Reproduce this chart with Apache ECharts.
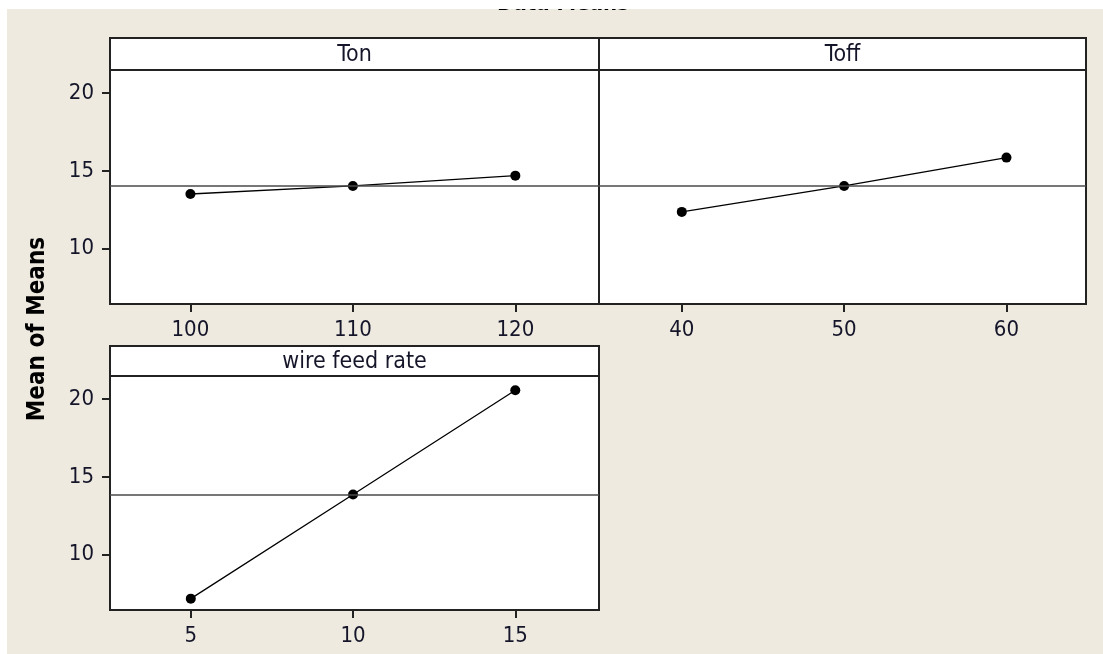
<!DOCTYPE html>
<html>
<head>
<meta charset="utf-8">
<script src="https://cdn.jsdelivr.net/npm/echarts@6/dist/echarts.min.js"></script>
<style>
html,body{margin:0;padding:0;background:#fff;}
#chart{width:1103px;height:654px;}
</style>
</head>
<body>
<div id="chart"></div>
<script>
// ---- data ----
const panelNames = ['Ton', 'Toff', 'wire feed rate'];
const tonLevels = [100, 110, 120];
const tonMeans = [13.51, 14.03, 14.69];
const toffLevels = [40, 50, 60];
const toffMeans = [12.36, 14.03, 15.85];
const wireLevels = [5, 10, 15];
const wireMeans = [7.17, 13.86, 20.56];
const refLines = [14.03, 14.03, 13.87];
const yTicks = [10, 15, 20];
const xTicksTon = [100, 110, 120];
const xTicksToff = [40, 50, 60];
const xTicksWire = [5, 10, 15];
const yAxisTitle = 'Mean of Means';
const chartTitle = 'Data Means';

// ---- layout ----
const FONT = '"DejaVu Sans Condensed", "DejaVu Sans", sans-serif';
const LABEL_COLOR = '#15152a';
const BORDER = '#222';
const grids = [
  {left: 110, top: 70, width: 489, height: 234},
  {left: 599, top: 70, width: 487, height: 234},
  {left: 110, top: 376, width: 489, height: 234}
];
const strips = [
  {x: 110, y: 38, w: 489, h: 32},
  {x: 599, y: 38, w: 487, h: 32},
  {x: 110, y: 346, w: 489, h: 30}
];
const xRanges = [[95.05, 125.15], [34.9, 64.9], [2.51, 17.58]];
const xTickSets = [xTicksTon, xTicksToff, xTicksWire];
const levelSets = [tonLevels, toffLevels, wireLevels];
const meanSets = [tonMeans, toffMeans, wireMeans];

const chart = echarts.init(document.getElementById('chart'), null, {renderer: 'canvas'});

const xAxes = grids.map((g, i) => ({
  type: 'value', gridIndex: i, min: xRanges[i][0], max: xRanges[i][1],
  splitLine: {show: false},
  axisLine: {show: false},
  axisTick: {show: true, length: 8, customValues: xTickSets[i], lineStyle: {color: BORDER, width: 2}},
  axisLabel: {show: true, customValues: xTickSets[i], margin: 15, fontFamily: FONT, fontSize: 22, color: LABEL_COLOR}
}));
const yAxes = grids.map((g, i) => ({
  type: 'value', gridIndex: i, min: 6.44, max: 21.48,
  splitLine: {show: false},
  axisLine: {show: false},
  axisTick: {show: i !== 1, length: 8, customValues: yTicks, lineStyle: {color: BORDER, width: 2}},
  axisLabel: {show: i !== 1, customValues: yTicks, margin: 16, fontFamily: FONT, fontSize: 22, color: LABEL_COLOR}
}));

const series = grids.map((g, i) => ({
  type: 'line', xAxisIndex: i, yAxisIndex: i,
  data: levelSets[i].map((x, k) => [x, meanSets[i][k]]),
  symbol: 'circle', symbolSize: 10,
  itemStyle: {color: '#000'},
  lineStyle: {color: '#000', width: 1.3},
  silent: true, animation: false,
  markLine: {
    silent: true, symbol: 'none', animation: false,
    label: {show: false},
    lineStyle: {color: '#4a4a4a', width: 1.5, type: 'solid'},
    data: [{yAxis: refLines[i]}]
  }
}));

const graphics = [];
strips.forEach((s, i) => {
  graphics.push({
    type: 'rect', z: 10,
    shape: {x: s.x, y: s.y, width: s.w, height: s.h},
    style: {fill: '#fff', stroke: BORDER, lineWidth: 2}
  });
  graphics.push({
    type: 'text', z: 11,
    style: {x: s.x + s.w / 2, y: s.y + s.h / 2 + 1, text: panelNames[i], textAlign: 'center', textVerticalAlign: 'middle',
      font: '23px ' + FONT, fill: LABEL_COLOR}
  });
});
graphics.push({
  type: 'text', z: 11, x: 38, y: 329, rotation: Math.PI / 2,
  style: {x: 0, y: 0, text: yAxisTitle, textAlign: 'center', textVerticalAlign: 'middle',
    font: 'bold 24px ' + FONT, fill: '#000'}
});
graphics.push({
  type: 'text', z: 11,
  style: {x: 563, y: 4, text: chartTitle, textAlign: 'center', textVerticalAlign: 'middle',
    font: 'bold 22px ' + FONT, fill: '#000'}
});
// white frame edges of the screenshot
graphics.push({type: 'rect', z: 20, shape: {x: 0, y: 0, width: 1103, height: 9}, style: {fill: '#fff'}});
graphics.push({type: 'rect', z: 20, shape: {x: 0, y: 0, width: 7, height: 654}, style: {fill: '#fff'}});

chart.setOption({
  animation: false,
  backgroundColor: '#EEEAE0',
  grid: grids.map(g => Object.assign({show: true, backgroundColor: '#fff', borderColor: BORDER, borderWidth: 2}, g)),
  xAxis: xAxes,
  yAxis: yAxes,
  series: series,
  graphic: graphics
});
</script>
</body>
</html>
